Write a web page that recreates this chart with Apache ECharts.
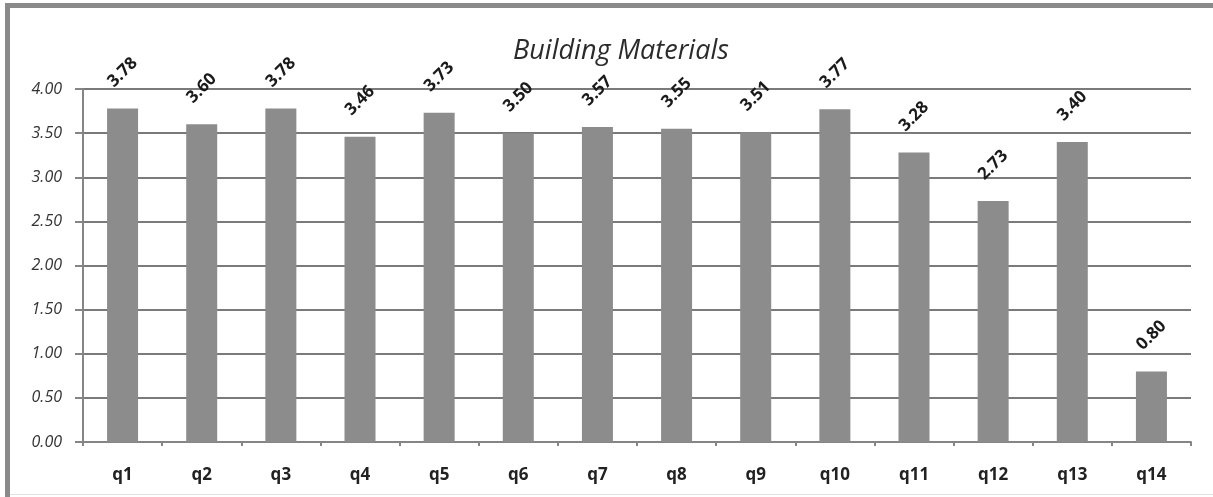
<!DOCTYPE html>
<html>
<head>
<meta charset="utf-8">
<script src="https://cdn.jsdelivr.net/npm/echarts@6/dist/echarts.min.js"></script>
<style>
  html, body { margin: 0; padding: 0; background: #fff; }
  #chart { width: 1213px; height: 497px; }
</style>
</head>
<body>
<div id="chart"></div>
<script>
// Average scores per question
const categories = ['q1', 'q2', 'q3', 'q4', 'q5', 'q6', 'q7', 'q8', 'q9', 'q10', 'q11', 'q12', 'q13', 'q14'];
const scores = [3.78, 3.60, 3.78, 3.46, 3.73, 3.50, 3.57, 3.55, 3.51, 3.77, 3.28, 2.73, 3.40, 0.80];
const chartTitle = 'Building Materials';

const chart = echarts.init(document.getElementById('chart'));
const font = '"Open Sans", "Liberation Sans", sans-serif';

chart.setOption({
  animation: false,
  backgroundColor: '#ffffff',
  title: {
    text: chartTitle,
    left: 616,
    top: 33,
    textAlign: 'center',
    textStyle: { fontFamily: font, fontStyle: 'italic', fontWeight: 'normal', fontSize: 27, color: '#2b2b2b' }
  },
  graphic: [
    // frame: heavy top/left edges, faint bottom edge
    { type: 'rect', shape: { x: 5, y: 3, width: 1208, height: 5 }, style: { fill: '#8a8a8a' }, z: 10 },
    { type: 'rect', shape: { x: 5, y: 3, width: 5, height: 494 }, style: { fill: '#8a8a8a' }, z: 10 },
    { type: 'rect', shape: { x: 10, y: 494, width: 1203, height: 1 }, style: { fill: '#e2e2e2' }, z: 10 }
  ],
  grid: { left: 83, right: 22, top: 89, bottom: 55 },
  xAxis: {
    type: 'category',
    data: categories,
    axisLine: { lineStyle: { color: '#858585', width: 2 } },
    axisTick: { show: true, length: 4, lineStyle: { color: '#858585', width: 2 } },
    axisLabel: { margin: 25, fontFamily: font, fontWeight: 'bold', fontSize: 17, color: '#222' },
    splitLine: { show: false }
  },
  yAxis: {
    type: 'value',
    min: 0,
    max: 4,
    interval: 0.5,
    axisLine: { show: true, lineStyle: { color: '#858585', width: 2 } },
    axisTick: { show: true, length: 8, lineStyle: { color: '#858585', width: 2 } },
    axisLabel: {
      margin: 21,
      fontFamily: font,
      fontStyle: 'italic',
      fontSize: 16,
      color: '#333',
      formatter: v => v.toFixed(2)
    },
    splitLine: { lineStyle: { color: '#7a7a7a', width: 2 } }
  },
  series: [{
    type: 'bar',
    data: scores,
    barWidth: 31,
    itemStyle: { color: '#8c8c8c' },
    label: {
      show: true,
      position: 'top',
      distance: 36,
      rotate: 45,
      align: 'center',
      verticalAlign: 'middle',
      fontFamily: font,
      fontWeight: 'bold',
      fontSize: 17,
      color: '#1a1a1a',
      formatter: p => p.value.toFixed(2)
    }
  }]
});
</script>
</body>
</html>
